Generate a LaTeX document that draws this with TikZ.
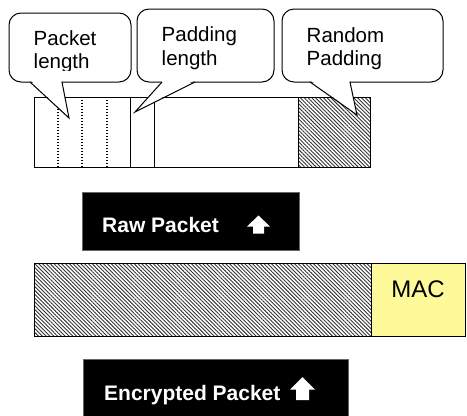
\documentclass[tikz,border=0pt]{standalone}
\usepackage{fontspec}
\setmainfont{Liberation Sans}
\usetikzlibrary{patterns.meta,calc}

% rounded speech balloon: #1 = corner NW, #2 = corner SE, #3 = tail base left, #4 = tip, #5 = tail base right
\newcommand\speechballoon[5]{%
  \filldraw[balloon] #1 rectangle #2;
  \fill[white] ($#3+(0.8,-1.5)$) -- #4 -- ($#5+(-0.8,-1.5)$) -- cycle;
  \draw[balloonline] #3 -- #4 -- #5;
}

\tikzset{
  balloon/.style={draw=black, fill=white, line width=1pt, rounded corners=12pt},
  balloonline/.style={draw=black, line width=1pt, line join=miter},
  field/.style={draw=black, line width=1pt},
  hatched/.style={draw=black, line width=1pt,
    pattern={Lines[angle=-45,distance=2.7pt,line width=0.9pt]}, pattern color=black!80},
  macfield/.style={draw=black, line width=1pt, fill=yellow!40},
  divider/.style={draw=black, line width=1pt},
  dotdivider/.style={draw=black, line width=1.1pt, dash pattern=on 1pt off 2pt},
  banner/.style={fill=black, draw=black!60, line width=0.6pt},
  bannertext/.style={text=white, font=\fontsize{21}{24}\selectfont\bfseries, inner sep=0pt, anchor=base west},
  labeltext/.style={font=\fontsize{20.5}{23}\selectfont, inner sep=0pt, anchor=base west},
  uparrow/.style={fill=white},
}

\begin{document}
\begin{tikzpicture}[x=1pt, y=-1pt]
\useasboundingbox (0,0) rectangle (467,416);
\clip (0,0) rectangle (467,416);

% raw packet fields
\draw[field] (34,97) rectangle (370,167);
\draw[hatched] (298,97) rectangle (370,167);
\draw[divider] (130,97) -- (130,167);
\draw[divider] (154,97) -- (154,167);
\foreach \xx in {58,82,107} \draw[dotdivider] (\xx,97) -- (\xx,167);

% speech balloons
\speechballoon{(9,13)}{(131,82)}{(30,82)}{(69,118)}{(62,82)}
\speechballoon{(137,9)}{(274,82)}{(162,82)}{(135,112)}{(195,82)}
\speechballoon{(282,9)}{(443,82)}{(310,82)}{(357,115)}{(350,82)}

% balloon captions (the second lines end where the text frame ends)
\begin{scope}
  \clip (0,0) rectangle (467,70);
  \node[labeltext] (pk1) at (33.5,45.5) {Packet};
  \node[labeltext] (pk2) at (33.5,68.3) {length};
  \node[labeltext] (pd1) at (161.5,41.8) {Padding};
  \node[labeltext] (pd2) at (161.5,65) {length};
  \node[labeltext] (rp1) at (306.5,42.5) {Random};
  \node[labeltext] (rp2) at (306.5,65) {Padding};
\end{scope}

% raw packet banner
\fill[banner] (82,192) rectangle (299,250);
\node[bannertext] (raw) at (102,232) {Raw Packet};
\fill[uparrow] (258.5,215.5) -- (270,226.5) -- (264,226.5) -- (264,233.5)
  -- (253,233.5) -- (253,226.5) -- (247,226.5) -- cycle;

% encrypted packet
\draw[hatched] (34,263) rectangle (371,336);
\draw[macfield] (371,263) rectangle (465.5,336);
\node[font=\fontsize{24}{27}\selectfont, inner sep=0pt, anchor=base] (mac) at (418,297) {MAC};

% encrypted packet banner
\fill[banner] (83,359) rectangle (348,420);
\node[bannertext] (enc) at (104,400) {Encrypted Packet};
\fill[uparrow] (302.5,377) -- (315,389.5) -- (309,389.5) -- (309,400)
  -- (296,400) -- (296,389.5) -- (290,389.5) -- cycle;
\end{tikzpicture}
\end{document}
